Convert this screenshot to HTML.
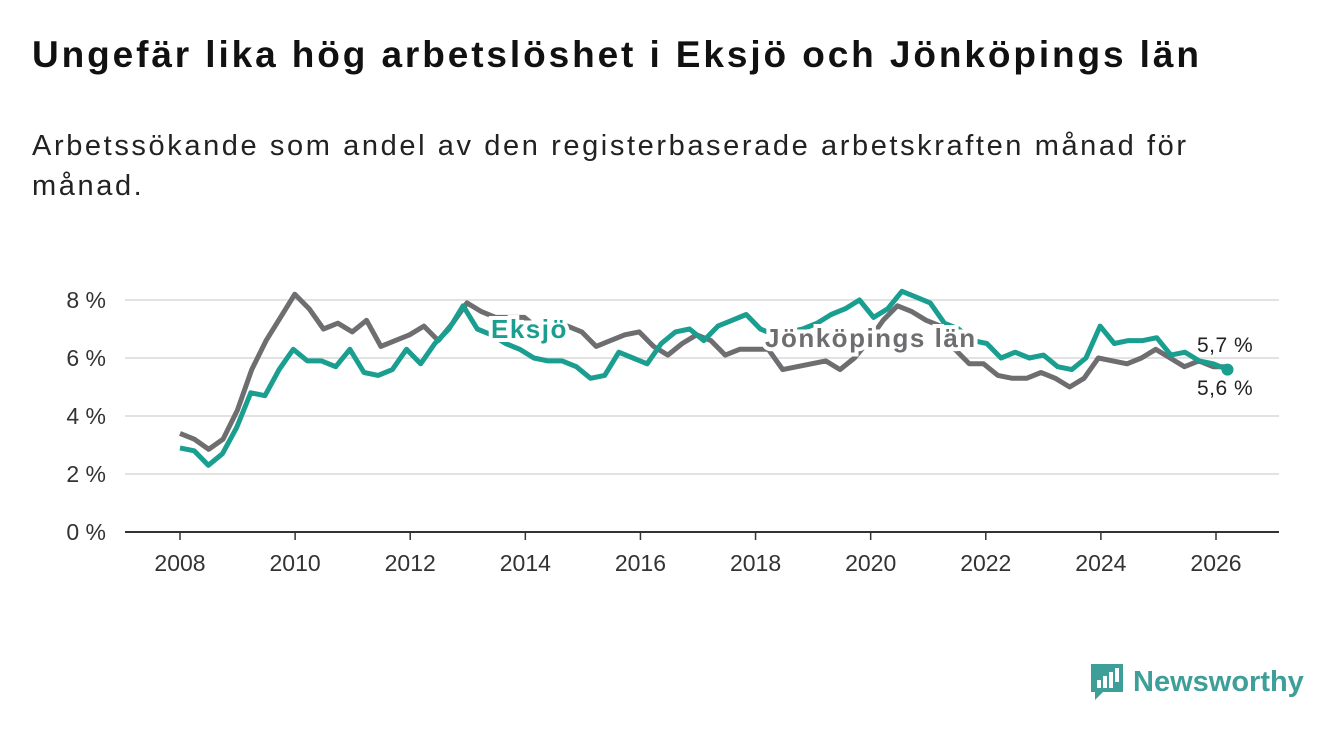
<!DOCTYPE html>
<html><head><meta charset="utf-8"><style>
body{margin:0;background:#fff;width:1340px;height:734px;overflow:hidden;font-family:"Liberation Sans","DejaVu Sans",sans-serif;}
h1{position:absolute;left:32px;top:34px;margin:0;font-size:37px;font-weight:bold;color:#111;letter-spacing:2.9px;white-space:nowrap}
.sub{position:absolute;left:32px;top:126px;font-size:29px;line-height:40px;color:#222;width:1250px;letter-spacing:2.6px}
</style></head><body>
<h1>Ungefär lika hög arbetslöshet i Eksjö och Jönköpings län</h1>
<div class="sub">Arbetssökande som andel av den registerbaserade arbetskraften månad för<br>månad.</div>
<svg id="chart" width="1340" height="734" style="position:absolute;left:0;top:0"></svg>
<div style="position:absolute;left:1089px;top:662px;display:flex;align-items:center">
<svg width="36" height="40"><path d="M2 2h32v28H14l-8 8v-8H2z" fill="#3e9e98"/><rect x="8" y="18" width="4" height="8" fill="#fff"/><rect x="14" y="14" width="4" height="12" fill="#fff"/><rect x="20" y="10" width="4" height="16" fill="#fff"/><rect x="26" y="6" width="4" height="14" fill="#fff"/></svg>
<span style="font-size:29px;font-weight:bold;color:#3e9e98;margin-left:8px">Newsworthy</span></div>
<script>
const ticksY=[0,2,4,6,8];
const ticksX=[2008,2010,2012,2014,2016,2018,2020,2022,2024,2026];
const startYear=2008, endYear=2026.2;
const jonkoping=[3.4,3.2,2.85,3.2,4.2,5.6,6.6,7.4,8.2,7.7,7.0,7.2,6.9,7.3,6.4,6.6,6.8,7.1,6.6,7.2,7.9,7.6,7.4,7.4,7.4,7.0,6.8,7.1,6.9,6.4,6.6,6.8,6.9,6.4,6.1,6.5,6.8,6.6,6.1,6.3,6.3,6.3,5.6,5.7,5.8,5.9,5.6,6.0,6.6,7.3,7.8,7.6,7.3,7.1,6.3,5.8,5.8,5.4,5.3,5.3,5.5,5.3,5.0,5.3,6.0,5.9,5.8,6.0,6.3,6.0,5.7,5.9,5.7,5.7];
const eksjo=[2.9,2.8,2.3,2.7,3.6,4.8,4.7,5.6,6.3,5.9,5.9,5.7,6.3,5.5,5.4,5.6,6.3,5.8,6.5,7.0,7.8,7.0,6.8,6.5,6.3,6.0,5.9,5.9,5.7,5.3,5.4,6.2,6.0,5.8,6.5,6.9,7.0,6.6,7.1,7.3,7.5,7.0,6.8,6.9,7.0,7.2,7.5,7.7,8.0,7.4,7.7,8.3,8.1,7.9,7.2,7.0,6.6,6.5,6.0,6.2,6.0,6.1,5.7,5.6,6.0,7.1,6.5,6.6,6.6,6.7,6.1,6.2,5.9,5.8,5.6];
const X=y=>180+(y-2008)*(1036/18);
const Y=v=>532-v*29;
const svg=document.getElementById('chart');const NS='http://www.w3.org/2000/svg';
function mk(t,a){const e=document.createElementNS(NS,t);for(const k in a)e.setAttribute(k,a[k]);svg.appendChild(e);return e;}
ticksY.forEach(v=>{
 const l=mk('line',{x1:125,x2:1279,y1:Y(v),y2:Y(v),stroke:v===0?'#333':'#d8d8d8','stroke-width':v===0?2:1.5});
 
 
 const t=mk('text',{x:106,y:Y(v)+8,'text-anchor':'end','font-size':23,fill:'#333'});t.textContent=v+' %';
 
 
});
ticksX.forEach(y=>{
 const l=mk('line',{x1:X(y),x2:X(y),y1:532,y2:540,stroke:'#333','stroke-width':1.5});
 
 
 const t=mk('text',{x:X(y),y:571,'text-anchor':'middle','font-size':23,fill:'#333'});t.textContent=y;
 
 
});
function xAt(i,n){return X(startYear+i*(endYear-startYear)/(n-1));}
function pts(a){return a.map((v,i)=>xAt(i,a.length)+','+Y(v)).join(' ');}
const g=mk('polyline',{points:pts(jonkoping),fill:'none',stroke:'#6e6d70','stroke-width':5,'stroke-linejoin':'round'});


const e=mk('polyline',{points:pts(eksjo),fill:'none',stroke:'#1a9e8f','stroke-width':5,'stroke-linejoin':'round'});


const li=eksjo.length-1;
const d=mk('circle',{cx:xAt(li,eksjo.length),cy:Y(eksjo[li]),r:6,fill:'#1a9e8f'});


function lab(txt,x,y,col,name,bold,anchor){
 const t=mk('text',{x:x,y:y,'font-size':bold?26:21,'font-weight':bold?'bold':'normal',fill:col,stroke:'#fff','stroke-width':bold?8:5,'paint-order':'stroke','text-anchor':anchor||'start','letter-spacing':bold?1.5:0.5});
 t.textContent=txt;
 
 
}
lab('Eksjö',491,338,'#1a9e8f','eksjo-label',true);
lab('Jönköpings län',765,347,'#6e6d70','jonkoping-label',true);
lab('5,7 %',1197,352,'#222','jonkoping-end-value',false);
lab('5,6 %',1197,395,'#222','eksjo-end-value',false);
</script>
</body></html>
